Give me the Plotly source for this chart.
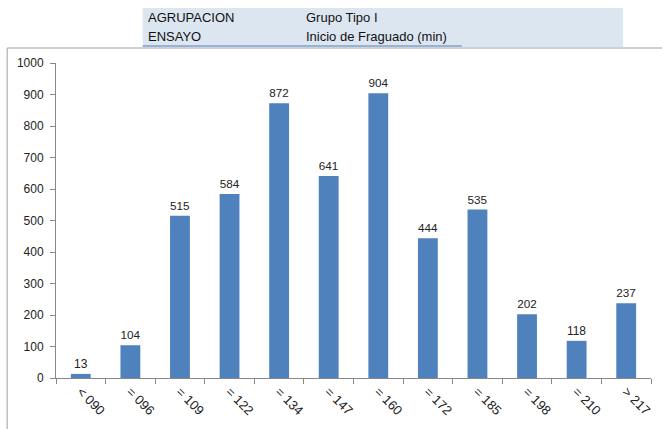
import plotly.graph_objects as go

categories = ["< 090", "= 096", "= 109", "= 122", "= 134", "= 147",
              "= 160", "= 172", "= 185", "= 198", "= 210", "> 217"]
counts = [13, 104, 515, 584, 872, 641, 904, 444, 535, 202, 118, 237]
y_ticks = [0, 100, 200, 300, 400, 500, 600, 700, 800, 900, 1000]

W, H = 664, 429
L, R, T, B = 56, 11, 63, 51


def px_x(px):
    return (px - L) / (W - L - R)


def px_y(py):
    return (H - B - py) / (H - T - B)


FONT = "Liberation Sans, Arial, sans-serif"

fig = go.Figure()
fig.add_trace(
    go.Bar(
        x=categories,
        y=counts,
        marker=dict(color="#4F81BD", line=dict(width=0)),
        text=[str(v) for v in counts],
        textposition="outside",
        textfont=dict(size=12, color="#222222", family=FONT),
        cliponaxis=False,
    )
)

# header band
fig.add_shape(type="rect", xref="paper", yref="paper",
              x0=px_x(143), x1=px_x(625), y0=px_y(47), y1=px_y(8),
              fillcolor="#DCE6F1", line=dict(width=0), layer="below")
fig.add_shape(type="line", xref="paper", yref="paper",
              x0=px_x(143), x1=px_x(463), y0=px_y(46), y1=px_y(46),
              line=dict(color="#95B3D7", width=2))
# chart frame
fig.add_shape(type="line", xref="paper", yref="paper",
              x0=px_x(7), x1=px_x(664), y0=px_y(48), y1=px_y(48),
              line=dict(color="#A0A0A0", width=1))
fig.add_shape(type="line", xref="paper", yref="paper",
              x0=px_x(7), x1=px_x(7), y0=px_y(48), y1=px_y(429),
              line=dict(color="#A0A0A0", width=1))

header = [("AGRUPACION", "Grupo Tipo I", 17), ("ENSAYO", "Inicio de Fraguado (min)", 36)]
for left, right, py in header:
    fig.add_annotation(xref="paper", yref="paper", x=px_x(146), y=px_y(py),
                       text=left, showarrow=False, xanchor="left", yanchor="middle",
                       font=dict(size=13, color="#111111", family=FONT))
    fig.add_annotation(xref="paper", yref="paper", x=px_x(305), y=px_y(py),
                       text=right, showarrow=False, xanchor="left", yanchor="middle",
                       font=dict(size=13, color="#111111", family=FONT))

fig.update_layout(
    width=W, height=H,
    margin=dict(l=L, r=R, t=T, b=B),
    paper_bgcolor="white",
    plot_bgcolor="white",
    showlegend=False,
    bargap=0.6,
    xaxis=dict(
        tickangle=45,
        showline=True, linecolor="#888888", linewidth=1,
        ticks="outside", ticklen=5, tickcolor="#888888",
        tickson="boundaries",
        tickfont=dict(size=13, color="#222222", family=FONT),
        showgrid=False,
    ),
    yaxis=dict(
        range=[0, 1000],
        tickvals=y_ticks,
        showline=True, linecolor="#888888", linewidth=1,
        ticks="outside", ticklen=5, tickcolor="#888888",
        ticklabelstandoff=4,
        tickfont=dict(size=12, color="#222222", family=FONT),
        showgrid=False, zeroline=False,
    ),
)

fig.write_html("out.html", config={"displayModeBar": False},
               post_script="document.body.style.margin='0';")
